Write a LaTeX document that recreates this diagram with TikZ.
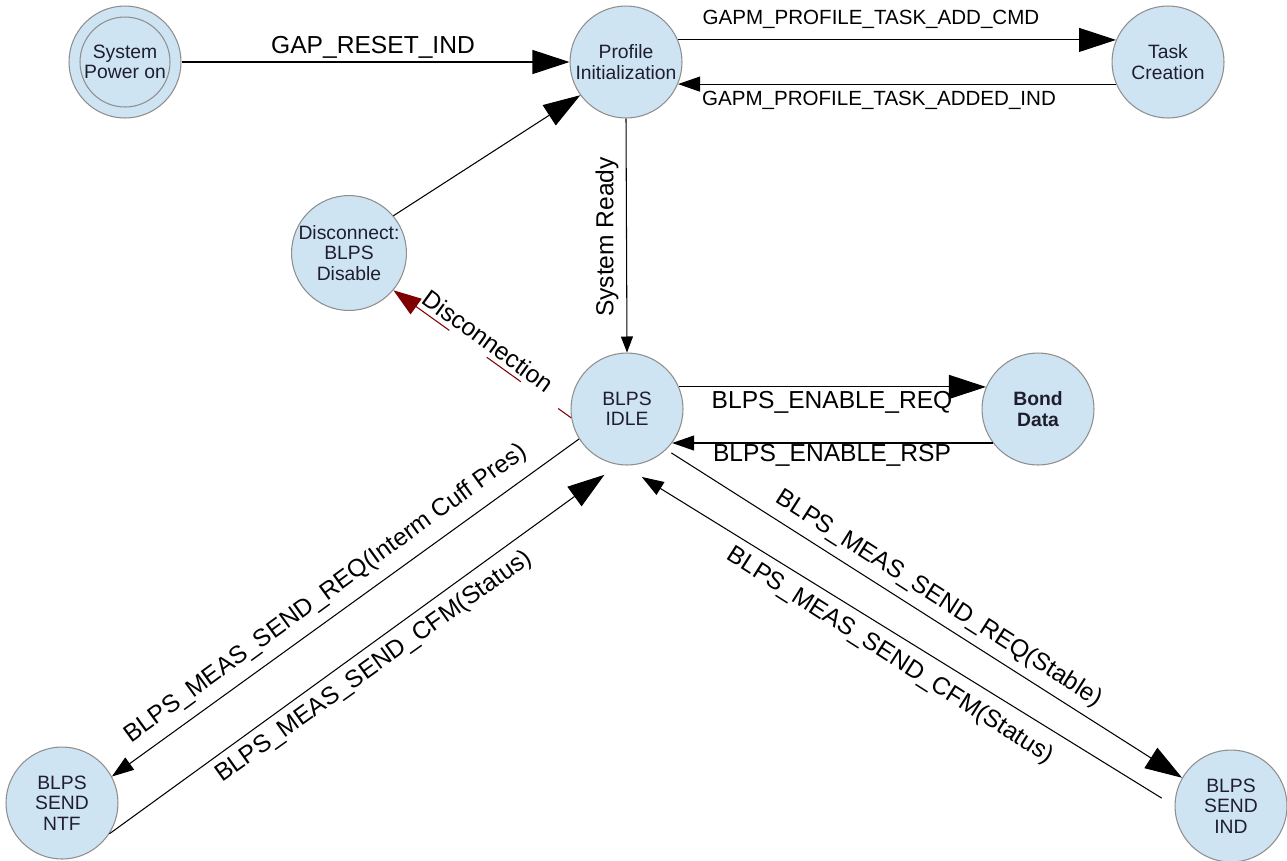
\documentclass[tikz,border=0pt]{standalone}
\usepackage{fontspec}
\setmainfont{Liberation Sans}
\usetikzlibrary{arrows.meta}
\definecolor{stfill}{HTML}{CFE4F2}
\definecolor{stline}{HTML}{8E8E8E}
\definecolor{stext}{HTML}{1E1E2E}
\definecolor{dred}{HTML}{800000}
\tikzset{
  state/.style={circle, draw=stline, fill=stfill, line width=0.6pt, minimum size=2.24cm, inner sep=0pt,
    align=center, text=stext, font=\fontsize{11}{11.6}\selectfont},
  lbl/.style={inner sep=0pt, font=\fontsize{14}{16}\selectfont},
  toplbl/.style={inner sep=0pt, font=\fontsize{11.7}{14}\selectfont},
  conn/.style={draw=black, line width=0.6pt},
  bigtip/.style={-{Triangle[length=0.74cm,width=0.48cm]}},
  medtip/.style={-{Triangle[length=0.44cm,width=0.3cm]}},
  smalltip/.style={-{Triangle[length=0.32cm,width=0.24cm]}},
}
\begin{document}
\begin{tikzpicture}[x=0.02cm,y=-0.02cm]
\useasboundingbox (0,0) rectangle (1287,860);
% states
\node[state] (spo) at (125,62) {System\\Power on};
\draw[stline, line width=0.6pt] (spo.center) circle[radius=0.9cm];
\node[state] (pi) at (626,62) {Profile\\Initialization};
\node[state] (tc) at (1168,62) {Task\\Creation};
\node[state] (dis) at (349,253) {Disconnect:\\BLPS\\Disable};
\node[state] (idle) at (627,409) {BLPS\\IDLE};
\node[state, font=\fontsize{11}{11.6}\selectfont\bfseries] (bond) at (1038,409) {Bond\\Data};
\node[state] (ntf) at (62,803) {BLPS\\SEND\\NTF};
\node[state] (ind) at (1231,806) {BLPS\\SEND\\IND};
% connectors
\draw[conn, bigtip] (spo.east) -- (pi.west);
\draw[conn, bigtip] (pi.23) -- (tc.157);
\draw[conn, medtip] (tc.203) -- (pi.-23);
\draw[conn, bigtip] (dis.40) -- (pi.216);
\draw[conn, smalltip] (pi.south) -- (idle.north);
\draw[draw=dred, line width=0.6pt, dash pattern=on 0.84cm off 0.92cm, dash phase=0.52cm,
  -{Triangle[length=0.56cm,width=0.38cm]}, dred] (idle.189) -- (dis.320);
\draw[conn, bigtip] (idle.23) -- (bond.157);
\draw[conn, medtip] (bond.217) -- (idle.-37);
\draw[conn, medtip] (idle.212) -- (ntf.28);
\draw[conn, bigtip, shorten >=0.34cm] (ntf.-33) -- (idle.261);
\draw[conn, bigtip, shorten <=0.12cm] (idle.314) -- (ind.150);
\draw[conn, medtip, shorten <=0.3cm, shorten >=0.44cm] (ind.180) -- (idle.266);
% labels
\node[lbl] (l1) at (373,47) {GAP\_RESET\_IND};
\node[toplbl] (l2) at (871,19) {GAPM\_PROFILE\_TASK\_ADD\_CMD};
\node[toplbl] (l3) at (879,100) {GAPM\_PROFILE\_TASK\_ADDED\_IND};
\node[lbl, rotate=90] (l4) at (607,237) {System Ready};
\node[lbl, rotate=-36] (l5) at (488,341) {Disconnection};
\node[lbl] (l6) at (832,402) {BLPS\_ENABLE\_REQ};
\node[lbl] (l7) at (832,455) {BLPS\_ENABLE\_RSP};
\node[lbl, rotate=36] (l8) at (326,594) {BLPS\_MEAS\_SEND\_REQ(Interm Cuff Pres)};
\node[lbl, rotate=35.5] (l9) at (374,667) {BLPS\_MEAS\_SEND\_CFM(Status)};
\node[lbl, rotate=-32.5] (l10) at (939,599) {BLPS\_MEAS\_SEND\_REQ(Stable)};
\node[lbl, rotate=-32.5] (l11) at (890,656) {BLPS\_MEAS\_SEND\_CFM(Status)};
\end{tikzpicture}
\end{document}
